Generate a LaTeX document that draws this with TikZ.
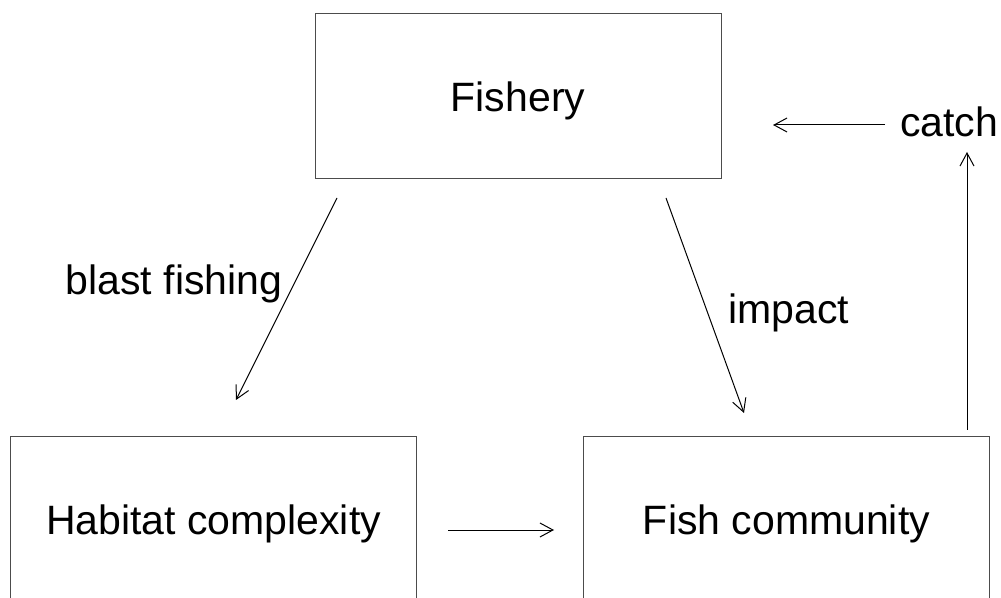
\documentclass[tikz,border=0pt]{standalone}
\usepackage{fontspec}
\setmainfont{Liberation Sans}
\usetikzlibrary{arrows.meta}

\tikzset{
  box/.style={draw=black!70, line width=0.5pt, minimum width=203pt,
    minimum height=82.5pt, inner sep=0pt, text depth=0pt},
  link/.style={-{Straight Barb[length=6.5pt,width=7pt]}, line width=0.5pt},
  tag/.style={inner sep=0pt},
}

\begin{document}
\begin{tikzpicture}[x=0.5pt, y=-0.5pt, font=\fontsize{20.5}{24}\selectfont]
  \useasboundingbox (0,0) rectangle (1001,598);
  % boxes
  \node[box] (fishery) at (518,96.5) {Fishery};
  \node[box] (habitat) at (213.5,519.5) {Habitat complexity};
  \node[box] (community) at (786.5,519.5) {Fish community};
  % labels
  \node[tag] (catch) at (949,121.5) {catch};
  \node[tag] (blast) at (174,284) {blast fishing};
  \node[tag] (impact) at (789,313) {impact};
  % free ends of the arrows
  \coordinate (blast start) at (337,198);
  \coordinate (blast end) at (236,400);
  \coordinate (impact start) at (666,198);
  \coordinate (impact end) at (744,413);
  \coordinate (catch up) at (967,430);
  \coordinate (catch top) at (967,152);
  \coordinate (catch left) at (885,125);
  \coordinate (catch tip) at (773,125);
  \coordinate (hc start) at (448,530);
  \coordinate (hc end) at (554,530);
  \draw[link] (blast start) -- (blast end);
  \draw[link] (impact start) -- (impact end);
  \draw[link] (catch up) -- (catch top);
  \draw[link] (catch left) -- (catch tip);
  \draw[link] (hc start) -- (hc end);
\end{tikzpicture}
\end{document}
